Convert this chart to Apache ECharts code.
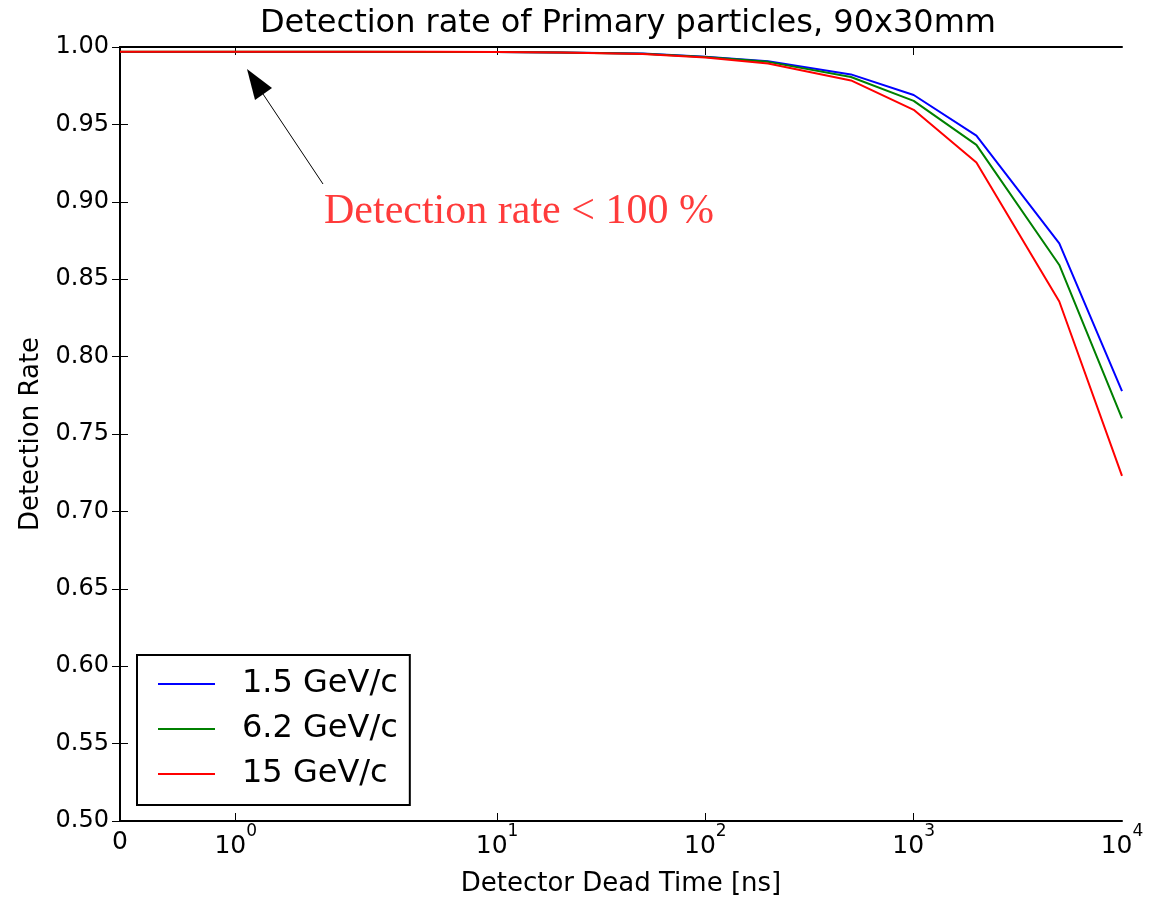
<!DOCTYPE html>
<html>
<head>
<meta charset="utf-8">
<title>Detection rate of Primary particles</title>
<script src="https://cdn.jsdelivr.net/npm/echarts@6/dist/echarts.min.js"></script>
<style>
  html, body { margin: 0; padding: 0; background: #fff; }
  #main { width: 1160px; height: 898px; }
</style>
</head>
<body>
<div id="main"></div>
<script>
// dead time in ns (x), detection rate per beam momentum (y)
const deadTime = [0, 1, 2, 5, 10, 20, 50, 100, 200, 500, 1000, 2000, 5000, 10000]
const rate1p5 = [0.9968, 0.9968, 0.9968, 0.9968, 0.9967, 0.9965, 0.9958, 0.9937, 0.9908, 0.9823, 0.9690, 0.9427, 0.8732, 0.7777]
const rate6p2 = [0.9969, 0.9969, 0.9969, 0.9968, 0.9967, 0.9964, 0.9957, 0.9935, 0.9904, 0.9806, 0.9652, 0.9368, 0.8592, 0.7601]
const rate15 = [0.9970, 0.9970, 0.9970, 0.9969, 0.9968, 0.9964, 0.9955, 0.9932, 0.9893, 0.9784, 0.9594, 0.9254, 0.8356, 0.7229]
const seriesNames = ['1.5 GeV/c', '6.2 GeV/c', '15 GeV/c']

// x tick positions and their labels (null exponent = plain "0")
const xTickValues = [0, 1, 10, 100, 1000, 10000]
const xTickExp = [null, 0, 1, 2, 3, 4]

// symlog scale like matplotlib: linthresh 2, linscale 1
const LINTHRESH = 2
const LINSCALE_ADJ = 1 / (1 - 1 / 10)
function symlog (x) {
  if (x <= LINTHRESH) return x * LINSCALE_ADJ / LINTHRESH
  return LINSCALE_ADJ + Math.log10(x / LINTHRESH)
}

const xTickPos = xTickValues.map(symlog)
const xMax = symlog(10000)
const font = '"DejaVu Sans", sans-serif'

function pairs (ys) {
  return deadTime.map((x, i) => [symlog(x), ys[i]])
}

const chart = echarts.init(document.getElementById('main'))

const frameAxis = { lineStyle: { color: '#000', width: 2 } }

chart.setOption({
  animation: false,
  backgroundColor: '#fff',
  title: {
    text: 'Detection rate of Primary particles, 90x30mm',
    left: 623,
    top: 3,
    textAlign: 'center',
    textStyle: { fontFamily: font, fontSize: 32, fontWeight: 'normal', color: '#000' }
  },
  grid: { left: 120, right: 38, top: 47, bottom: 77, outerBoundsMode: 'none' },
  legend: {
    orient: 'vertical',
    left: 137,
    top: 655,
    padding: [13, 12, 15, 21],
    itemGap: 13,
    itemWidth: 57,
    itemHeight: 2,
    icon: 'rect',
    borderColor: '#000',
    borderWidth: 2,
    data: seriesNames,
    textStyle: { fontFamily: font, fontSize: 32, color: '#000', padding: [0, 0, 0, 22] }
  },
  xAxis: [
    {
      type: 'value',
      min: 0,
      max: xMax,
      name: 'Detector Dead Time [ns]',
      nameLocation: 'middle',
      nameGap: 50,
      nameTextStyle: { fontFamily: font, fontSize: 26, color: '#000' },
      axisLine: frameAxis,
      splitLine: { show: false },
      axisTick: { inside: true, length: 8, customValues: xTickPos.slice(1, -1), lineStyle: { color: '#000', width: 1 } },
      axisLabel: {
        customValues: xTickPos,
        margin: 2,
        formatter: function (v) {
          const i = xTickPos.findIndex(p => Math.abs(p - v) < 1e-6)
          if (i < 0) return ''
          if (xTickExp[i] === null) return '{z|0}'
          return '{b|10}{s|' + xTickExp[i] + '}'
        },
        rich: {
          z: { fontFamily: font, fontSize: 25, color: '#000', lineHeight: 32, verticalAlign: 'bottom' },
          b: { fontFamily: font, fontSize: 25, color: '#000', lineHeight: 36, verticalAlign: 'bottom' },
          s: { fontFamily: font, fontSize: 17, color: '#000', lineHeight: 17, verticalAlign: 'top' }
        }
      }
    },
    {
      type: 'value',
      position: 'top',
      min: 0,
      max: xMax,
      axisLine: frameAxis,
      splitLine: { show: false },
      axisTick: { inside: true, length: 8, customValues: xTickPos.slice(1, -1), lineStyle: { color: '#000', width: 1 } },
      axisLabel: { show: false }
    }
  ],
  yAxis: [
    {
      type: 'value',
      min: 0.5,
      max: 1.0,
      interval: 0.05,
      name: 'Detection Rate',
      nameLocation: 'middle',
      nameGap: 74,
      nameTextStyle: { fontFamily: font, fontSize: 26, color: '#000' },
      axisLine: frameAxis,
      splitLine: { show: false },
      axisTick: { inside: true, length: 8, lineStyle: { color: '#000', width: 1 } },
      axisLabel: {
        margin: 11,
        fontFamily: font,
        fontSize: 24,
        color: '#000',
        formatter: v => v.toFixed(2)
      }
    },
    {
      type: 'value',
      position: 'right',
      min: 0.5,
      max: 1.0,
      interval: 0.05,
      axisLine: frameAxis,
      splitLine: { show: false },
      axisTick: { inside: true, length: 8, lineStyle: { color: '#000', width: 1 } },
      axisLabel: { show: false }
    }
  ],
  series: [
    { name: seriesNames[0], type: 'line', symbol: 'none', data: pairs(rate1p5), color: '#0000ff', lineStyle: { width: 2 } },
    { name: seriesNames[1], type: 'line', symbol: 'none', data: pairs(rate6p2), color: '#008000', lineStyle: { width: 2 } },
    { name: seriesNames[2], type: 'line', symbol: 'none', data: pairs(rate15), color: '#ff0000', lineStyle: { width: 2 } }
  ],
  // annotation arrow and text
  graphic: [
    { type: 'line', shape: { x1: 323, y1: 184, x2: 263, y2: 94 }, style: { stroke: '#000', lineWidth: 1 } },
    { type: 'polygon', shape: { points: [[247, 69], [272, 88], [255, 100]] }, style: { fill: '#000' } },
    {
      type: 'text',
      x: 324,
      y: 212,
      style: {
        text: 'Detection rate < 100 %',
        font: '42px "Liberation Serif", serif',
        fill: '#ff3b3b',
        verticalAlign: 'middle'
      }
    }
  ]
})
</script>
</body>
</html>
